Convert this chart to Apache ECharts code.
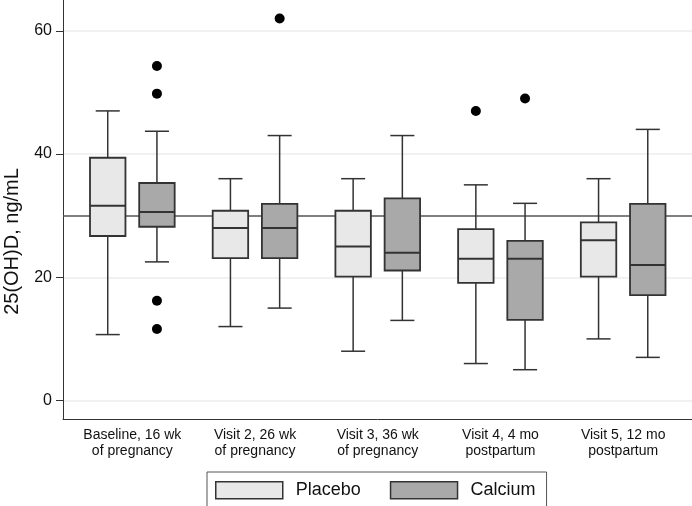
<!DOCTYPE html>
<html>
<head>
<meta charset="utf-8">
<script src="https://cdn.jsdelivr.net/npm/echarts@6/dist/echarts.min.js"></script>
<style>html,body{margin:0;padding:0;background:#fff}#chart{width:692px;height:506px}</style>
</head>
<body>
<div id="chart"></div>
<script>
// ---- data ----
const categories = ['Baseline, 16 wk\nof pregnancy', 'Visit 2, 26 wk\nof pregnancy', 'Visit 3, 36 wk\nof pregnancy', 'Visit 4, 4 mo\npostpartum', 'Visit 5, 12 mo\npostpartum'];
// [lower whisker, Q1, median, Q3, upper whisker]
const placeboBoxes = [[10.7, 26.7, 31.6, 39.4, 47.0], [12, 23.1, 28, 30.8, 36], [8, 20.1, 25, 30.8, 36], [6, 19.1, 23, 27.8, 35], [10, 20.1, 26, 28.9, 36]];
const calciumBoxes = [[22.5, 28.2, 30.6, 35.3, 43.7], [15, 23.1, 28, 31.9, 43], [13, 21.1, 24, 32.8, 43], [5, 13.1, 23, 25.9, 32], [7, 17.1, 22, 31.9, 44]];
// [category index, value]
const placeboOutliers = [[3, 47]];
const calciumOutliers = [[0, 54.3], [0, 49.8], [0, 16.2], [0, 11.6], [1, 62], [3, 49]];
const referenceValue = 30;
const yTicks = [0, 20, 40, 60];

// ---- layout/style ----
const OFFSET = 0.2005;  // box centre offset from category centre (in category units)
const BOX_W = 0.289;
const CAP_W = 0.196;
const FONT = 'Liberation Sans, Arial, Helvetica, sans-serif';
const FILL_P = '#e8e8e8', FILL_C = '#a9a9a9', EDGE = '#333';

function makeRender(offset, fill) {
  return function (params, api) {
    const x = api.value(0);
    const lo = api.value(1), q1 = api.value(2), med = api.value(3), q3 = api.value(4), hi = api.value(5);
    const unit = api.size([1, 0])[0];
    const cx = api.coord([x, med])[0] + offset * unit;
    const hw = BOX_W * unit / 2, cw = CAP_W * unit / 2;
    const yLo = api.coord([x, lo])[1], yQ1 = api.coord([x, q1])[1], yMed = api.coord([x, med])[1];
    const yQ3 = api.coord([x, q3])[1], yHi = api.coord([x, hi])[1];
    const ls = { stroke: EDGE, lineWidth: 1.5 };
    return {
      type: 'group',
      children: [
        { type: 'line', shape: { x1: cx, y1: yHi, x2: cx, y2: yQ3 }, style: ls },
        { type: 'line', shape: { x1: cx, y1: yQ1, x2: cx, y2: yLo }, style: ls },
        { type: 'line', shape: { x1: cx - cw, y1: yHi, x2: cx + cw, y2: yHi }, style: ls },
        { type: 'line', shape: { x1: cx - cw, y1: yLo, x2: cx + cw, y2: yLo }, style: ls },
        { type: 'rect', shape: { x: cx - hw, y: yQ3, width: 2 * hw, height: yQ1 - yQ3 }, style: { fill: fill, stroke: EDGE, lineWidth: 1.8 } },
        { type: 'line', shape: { x1: cx - hw, y1: yMed, x2: cx + hw, y2: yMed }, style: { stroke: EDGE, lineWidth: 2 } }
      ]
    };
  };
}

const chart = echarts.init(document.getElementById('chart'), null, { renderer: 'canvas' });
chart.setOption({
  animation: false,
  backgroundColor: '#fff',
  textStyle: { fontFamily: FONT },
  grid: { left: 63, right: 0, top: 0, bottom: 87, containLabel: false, outerBoundsMode: 'none' },
  xAxis: {
    type: 'value', min: -0.565, max: 4.561,
    axisLine: { show: true, onZero: false, lineStyle: { color: EDGE, width: 1 } },
    axisTick: { show: false },
    splitLine: { show: false },
    axisLabel: {
      customValues: categories.map((c, i) => i),
      formatter: v => categories[Math.round(v)],
      fontSize: 14, lineHeight: 16, color: '#111', margin: 8, fontFamily: FONT
    }
  },
  yAxis: {
    type: 'value', min: -3, max: 65,
    name: '25(OH)D, ng/mL', nameLocation: 'middle', nameRotate: 90, nameGap: 41,
    nameTextStyle: { fontSize: 20, color: '#111', fontFamily: FONT, padding: [0, 64, 0, 0] },
    axisLine: { show: true, onZero: false, lineStyle: { color: EDGE, width: 1 } },
    axisTick: { show: true, customValues: yTicks, length: 7, lineStyle: { color: EDGE, width: 1 } },
    axisLabel: { customValues: yTicks, fontSize: 16, color: '#111', margin: 11, fontFamily: FONT },
    splitLine: { show: true, lineStyle: { color: '#ececec', width: 1.5 } }
  },
  legend: {
    left: 207, top: 472, orient: 'horizontal',
    padding: [9, 11, 7, 8], itemGap: 29, itemWidth: 67, itemHeight: 17,
    borderColor: '#555', borderWidth: 1, selectedMode: false,
    textStyle: { fontSize: 18, lineHeight: 17, color: '#111', fontFamily: FONT, padding: [0, 0, 0, 8] },
    data: [
      { name: 'Placebo', icon: 'rect', itemStyle: { color: FILL_P, borderColor: EDGE, borderWidth: 1.5 } },
      { name: 'Calcium', icon: 'rect', itemStyle: { color: FILL_C, borderColor: EDGE, borderWidth: 1.5 } }
    ]
  },
  series: [
    {
      name: 'ref', type: 'scatter', z: 1, data: [],
      markLine: {
        silent: true, symbol: 'none', label: { show: false },
        lineStyle: { color: '#555', width: 1.5, type: 'solid' },
        data: [{ yAxis: referenceValue }]
      }
    },
    {
      name: 'Placebo', type: 'custom', z: 5,
      itemStyle: { color: FILL_P, borderColor: EDGE, borderWidth: 1.5 },
      renderItem: makeRender(-OFFSET, FILL_P),
      encode: { x: 0, y: [1, 2, 3, 4, 5] },
      data: placeboBoxes.map((d, i) => [i].concat(d))
    },
    {
      name: 'Calcium', type: 'custom', z: 5,
      itemStyle: { color: FILL_C, borderColor: EDGE, borderWidth: 1.5 },
      renderItem: makeRender(OFFSET, FILL_C),
      encode: { x: 0, y: [1, 2, 3, 4, 5] },
      data: calciumBoxes.map((d, i) => [i].concat(d))
    },
    {
      name: 'Placebo outliers', type: 'scatter', z: 6, symbol: 'circle', symbolSize: 10,
      itemStyle: { color: '#000', opacity: 1 },
      data: placeboOutliers.map(d => [d[0] - OFFSET, d[1]])
    },
    {
      name: 'Calcium outliers', type: 'scatter', z: 6, symbol: 'circle', symbolSize: 10,
      itemStyle: { color: '#000', opacity: 1 },
      data: calciumOutliers.map(d => [d[0] + OFFSET, d[1]])
    }
  ]
});
</script>
</body>
</html>
